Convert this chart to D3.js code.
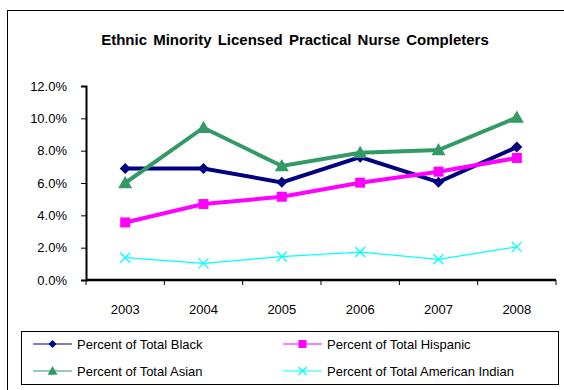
<!DOCTYPE html>
<html><head><meta charset="utf-8">
<script src="https://cdn.jsdelivr.net/npm/d3@7"></script>
<style>body{margin:0;background:#fff}svg{display:block;font-family:"Liberation Sans",Arial,sans-serif}</style>
</head><body><svg id="c" width="564" height="390"></svg>
<script>
const years = ["2003","2004","2005","2006","2007","2008"];
const black = [6.9, 6.9, 6.04, 7.6, 6.05, 8.22];
const hispanic = [3.56, 4.7, 5.15, 6.02, 6.7, 7.55];
const asian = [6.0, 9.42, 7.05, 7.87, 8.04, 10.05];
const amIndian = [1.38, 1.03, 1.45, 1.73, 1.28, 2.05];
const yTicks = [0, 2, 4, 6, 8, 10, 12];
const title = "Ethnic Minority Licensed Practical Nurse Completers";

const series = [
  {name:"Percent of Total Black", values:black, color:"#000080", w:4, marker:"diamond"},
  {name:"Percent of Total Hispanic", values:hispanic, color:"#FF00FF", w:4, marker:"square"},
  {name:"Percent of Total Asian", values:asian, color:"#339966", w:4, marker:"triangle"},
  {name:"Percent of Total American Indian", values:amIndian, color:"#00FFFF", w:1.2, marker:"x"}
];

const svg = d3.select("#c");
svg.append("rect").attr("x",7.5).attr("y",10.5).attr("width",600).attr("height",400)
  .attr("fill","none").attr("stroke","#000").attr("stroke-width",1);

svg.append("text").attr("x",295).attr("y",45).attr("text-anchor","middle")
  .attr("font-weight","bold").attr("font-size",15).attr("word-spacing",2).text(title);

const x = d3.scaleBand().domain(years).range([86,556]);
const y = d3.scaleLinear().domain([0,12]).range([280,86]);

const gy = svg.append("g").attr("transform","translate(86,0)")
  .call(d3.axisLeft(y).tickValues(yTicks).tickSize(5).tickPadding(5).tickFormat(d=>d.toFixed(1)+"%"));
gy.select(".domain").attr("stroke-width",2);
gy.selectAll(".tick line").attr("stroke-width",1);
gy.selectAll("text").attr("font-size",13).attr("fill","#000").attr("font-family","Liberation Sans, Arial, sans-serif").attr("dx",-9);

const gx = svg.append("g").attr("transform","translate(0,280)")
  .call(d3.axisBottom(x).tickSize(0).tickPadding(25));
gx.select(".domain").remove();
gx.selectAll("text").attr("font-size",13).attr("fill","#000").attr("font-family","Liberation Sans, Arial, sans-serif");
svg.append("line").attr("x1",86).attr("x2",556).attr("y1",280).attr("y2",280).attr("stroke","#000").attr("stroke-width",2.5);
const bounds = years.map(d=>x(d)).concat([x.range()[1]]);
svg.selectAll(".xt").data(bounds).enter().append("line")
  .attr("x1",d=>d).attr("x2",d=>d).attr("y1",280).attr("y2",285).attr("stroke","#000");

function drawMarker(g, type, cx, cy, color, size){
  const s=size;
  if(type==="diamond"){
    g.append("path").attr("d",`M${cx},${cy-s}L${cx+s},${cy}L${cx},${cy+s}L${cx-s},${cy}Z`).attr("fill",color);
  } else if(type==="square"){
    g.append("rect").attr("x",cx-s).attr("y",cy-s).attr("width",2*s).attr("height",2*s).attr("fill",color);
  } else if(type==="triangle"){
    g.append("path").attr("d",`M${cx},${cy-s}L${cx+s},${cy+s*0.75}L${cx-s},${cy+s*0.75}Z`).attr("fill",color);
  } else {
    g.append("path").attr("d",`M${cx-s},${cy-s}L${cx+s},${cy+s}M${cx+s},${cy-s}L${cx-s},${cy+s}`).attr("stroke",color).attr("stroke-width",1.3);
  }
}

const cx = d=>x(d)+x.bandwidth()/2;
const line = d3.line().x((d,i)=>cx(years[i])).y(d=>y(d));
const plot = svg.append("g");
series.forEach(s=>{
  plot.append("path").datum(s.values).attr("d",line).attr("fill","none")
    .attr("stroke",s.color).attr("stroke-width",s.w).attr("stroke-linejoin","miter");
  const sz = s.marker==="triangle"?7:(s.marker==="diamond"?5.5:5);
  s.values.forEach((v,i)=>drawMarker(plot,s.marker,cx(years[i]),y(v),s.color,sz));
});

svg.append("rect").attr("x",21.5).attr("y",331.5).attr("width",537).attr("height",53)
  .attr("fill","none").attr("stroke","#000").attr("stroke-width",1);
const legPos = [[33,344],[283,344],[33,371],[283,371]];
series.forEach((s,i)=>{
  const [lx,ly]=legPos[i];
  const g=svg.append("g");
  g.append("line").attr("x1",lx).attr("x2",lx+39).attr("y1",ly).attr("y2",ly).attr("stroke",s.color).attr("stroke-width",1.2);
  drawMarker(g,s.marker,lx+19.5,ly,s.color,s.marker==="triangle"?5:4);
  g.append("text").attr("x",lx+39+5).attr("y",ly+4.5).attr("font-size",13).text(s.name);
});
</script></body></html>
